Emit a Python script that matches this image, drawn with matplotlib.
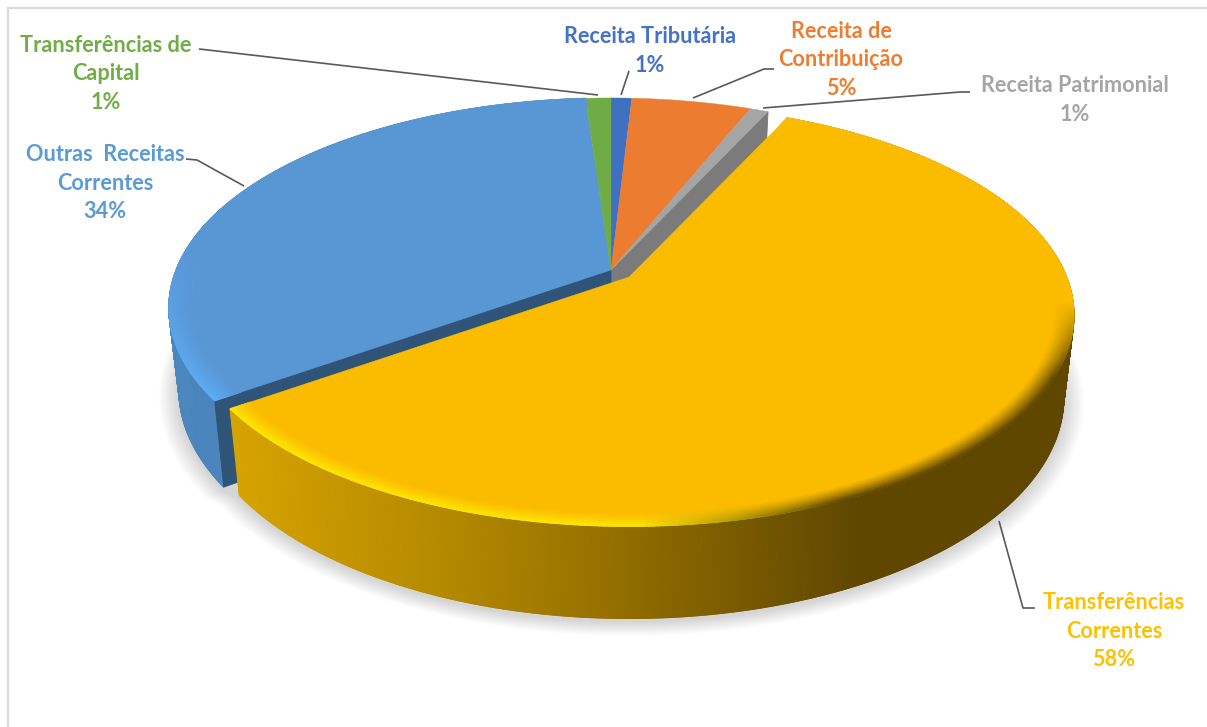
import numpy as np
import matplotlib
matplotlib.use("Agg")
import matplotlib.pyplot as plt
from matplotlib.patches import Polygon
from matplotlib.collections import LineCollection
from matplotlib.colors import to_rgb

# ---- data -------------------------------------------------------------
categories = ["Receita Tributária", "Receita de\nContribuição", "Receita Patrimonial",
              "Transferências\nCorrentes", "Outras  Receitas\nCorrentes", "Transferências de\nCapital"]
values = [0.9, 5.2, 0.8, 58.3, 33.7, 1.1]
pct_labels = ["1%", "5%", "1%", "58%", "34%", "1%"]
top_colors = ["#3F70C2", "#EB7C30", "#A5A5A5", "#FBBC00", "#5996D4", "#6FAC46"]
text_colors = ["#4472C4", "#ED7D31", "#A5A5A5", "#FFC000", "#5B9BD5", "#70AD47"]
label_pos = [(650, 51), (841, 60), (1075, 100), (1114, 631), (105, 183), (106, 74)]
leaders = [[(629, 71), (621, 95)],
           [(774, 69), (764, 69), (693, 98)],
           [(970, 92), (960, 92), (763, 108)],
           [(1035, 608), (1023, 608), (999, 521)],
           [(186, 159), (197, 160), (244, 186)],
           [(199, 49), (208, 50), (598, 95)]]

# ---- projection --------------------------------------------------------
CX, CY = 611.0, 270.0
R, RV, P = 435.0, 203.0, 0.18
DEPTH, BOTTOM_K = 80.0, 0.977
EXPLODE = 0.054
EXPLODED = 3
EXPLODED_R = 1.006


def project(theta, r=1.0, bottom=False, off=(0.0, 0.0)):
    theta = np.asarray(theta, dtype=float)
    r = np.asarray(r, dtype=float)
    u, v = r * np.sin(theta), r * np.cos(theta)
    s = 1.0 / (1.0 + P * v)
    k = BOTTOM_K if bottom else 1.0
    x = CX + off[0] + u * R * s * k
    y = CY + off[1] - v * RV * s * k + (DEPTH * s if bottom else 0.0)
    return x, y


def mix(a, b, t):
    t = np.asarray(t)[..., None]
    return np.asarray(a) * (1 - t) + np.asarray(b) * t


def yellow_side(x):
    xs = [225, 300, 440, 600, 760, 860, 1100]
    cols = np.array([to_rgb(c) for c in ["#D8A500", "#CC9B00", "#B58A00", "#977200", "#745700", "#5F4700", "#5F4700"]])
    return np.stack([np.interp(x, xs, cols[:, i]) for i in range(3)], axis=-1)


def blue_side(x):
    xs = [160, 300]
    cols = np.array([to_rgb("#4B86BE"), to_rgb("#4A84BA")])
    return np.stack([np.interp(x, xs, cols[:, i]) for i in range(3)], axis=-1)


def yellow_rim(x):
    t = np.clip((x - 640) / 200.0, 0, 1)
    return mix(to_rgb("#FFE600"), to_rgb("#5F4700"), t)


def blue_rim(x):
    return np.ones(np.shape(x) + (3,)) * np.array(to_rgb("#5EAEF6"))


fractions = np.cumsum([0.0] + values) / np.sum(values)
edges = 2 * np.pi * fractions
mid = (edges[EXPLODED] + edges[EXPLODED + 1]) / 2
off = (EXPLODE * np.sin(mid) * R, -EXPLODE * np.cos(mid) * RV)
Z0 = (0.0, 0.0)

fig = plt.figure(figsize=(12.07, 7.27), dpi=100, facecolor="white")
ax = fig.add_axes([0, 0, 1, 1])
ax.set_xlim(0, 1207)
ax.set_ylim(727, 0)
ax.axis("off")

# frame
ax.plot([8, 8, 1207], [727, 8, 8], color="#D9D9D9", lw=1.6, zorder=1, solid_joinstyle="miter")


def wedge_poly(a0, a1, bottom=False, o=Z0, r=1.0):
    th = np.linspace(a0, a1, 300)
    x, y = project(th, r, bottom, o)
    cx, cy = project(0.0, 0.0, bottom, o)
    return np.r_[[[cx, cy]], np.c_[x, y]]


def draw_side(a0, a1, colorf, o, z, r=1.0):
    th = np.linspace(a0, a1, 400)
    xt, yt = project(th, r, False, o)
    xb, yb = project(th, r, True, o)
    X = np.vstack([xt, xb])
    Y = np.vstack([yt, yb])
    C = np.dstack([colorf(X), np.ones_like(X)])
    ax.pcolormesh(X, Y, C, shading="gouraud", zorder=z)
    pts = np.c_[xb, yb]
    segs = np.stack([pts[:-1], pts[1:]], axis=1)
    ax.add_collection(LineCollection(segs, colors=colorf(xb[:-1]), lw=1.0, zorder=z + 0.1))


def draw_rim(a0, a1, top, rimf, v_lo, v_hi, o, z, r=1.0, inner=0.955):
    th = np.linspace(a0, a1, 400)
    rr = np.linspace(inner, 1.0, 8)
    T, RR = np.meshgrid(th, rr)
    X, Y = project(T, RR * r, False, o)
    weight = np.clip((v_hi - np.cos(T)) / (v_hi - v_lo), 0, 1) * ((RR - rr[0]) / (rr[-1] - rr[0])) ** 1.2
    C = mix(np.array(to_rgb(top)), rimf(X), weight)
    C = np.dstack([C, np.ones_like(X)])
    ax.pcolormesh(X, Y, C, shading="gouraud", zorder=z)


# soft shadow: one closed outline running round both parts of the pie
layers = 14
for i in range(layers):
    f = 1.0 + 0.045 * (1 - i / layers)
    x1, y1 = project(np.linspace(edges[EXPLODED], edges[EXPLODED + 1], 300), f * EXPLODED_R, True, off)
    x2, y2 = project(np.linspace(edges[EXPLODED + 1], edges[EXPLODED] + 2 * np.pi, 300), f, True, Z0)
    ax.add_patch(Polygon(np.c_[np.r_[x1, x2], np.r_[y1, y2] + 3], closed=True, fc="black",
                         ec="none", alpha=0.012, zorder=2))

# main body: side of Outras Receitas
draw_side(edges[4], edges[5], blue_side, Z0, 3)

# inner cut faces of the non-exploded part
for angle, color in [(edges[3], "#7B7B7B"), (edges[4], "#2F5478")]:
    xa, ya = project(angle, 1.0, False, Z0)
    xb, yb = project(angle, 1.0, True, Z0)
    xc, yc = project(0.0, 0.0, False, Z0)
    xd, yd = project(0.0, 0.0, True, Z0)
    ax.add_patch(Polygon([(xc, yc), (xa, ya), (xb, yb), (xd, yd)], closed=True, fc=color, ec=color,
                         lw=0.6, zorder=4))

# top surfaces of the non-exploded slices
for i, col in enumerate(top_colors):
    if i == EXPLODED:
        continue
    ax.add_patch(Polygon(wedge_poly(edges[i], edges[i + 1]), closed=True, fc=col, ec=col, lw=0.3, zorder=5))
draw_rim(edges[4], edges[5], top_colors[4], blue_rim, -0.55, 0.15, Z0, 6, inner=0.94)

# exploded slice
draw_side(edges[3], edges[4], yellow_side, off, 7, EXPLODED_R)
ax.add_patch(Polygon(wedge_poly(edges[3], edges[4], False, off, EXPLODED_R), closed=True, fc=top_colors[3],
                     ec=top_colors[3], lw=0.3, zorder=8))
draw_rim(edges[3], edges[4], top_colors[3], yellow_rim, -0.45, -0.12, off, 9, EXPLODED_R)

# leaders
for pts in leaders:
    ax.plot(*zip(*pts), color="#595959", lw=1.2, zorder=10, solid_capstyle="butt")

# labels
for name, pct, pos, col in zip(categories, pct_labels, label_pos, text_colors):
    ax.text(pos[0], pos[1], name + "\n" + pct, ha="center", va="center", color=col,
            family="Lato", weight="bold", fontsize=15.6, linespacing=1.45, zorder=11)

fig.savefig("out.png", dpi=100, facecolor="white")
